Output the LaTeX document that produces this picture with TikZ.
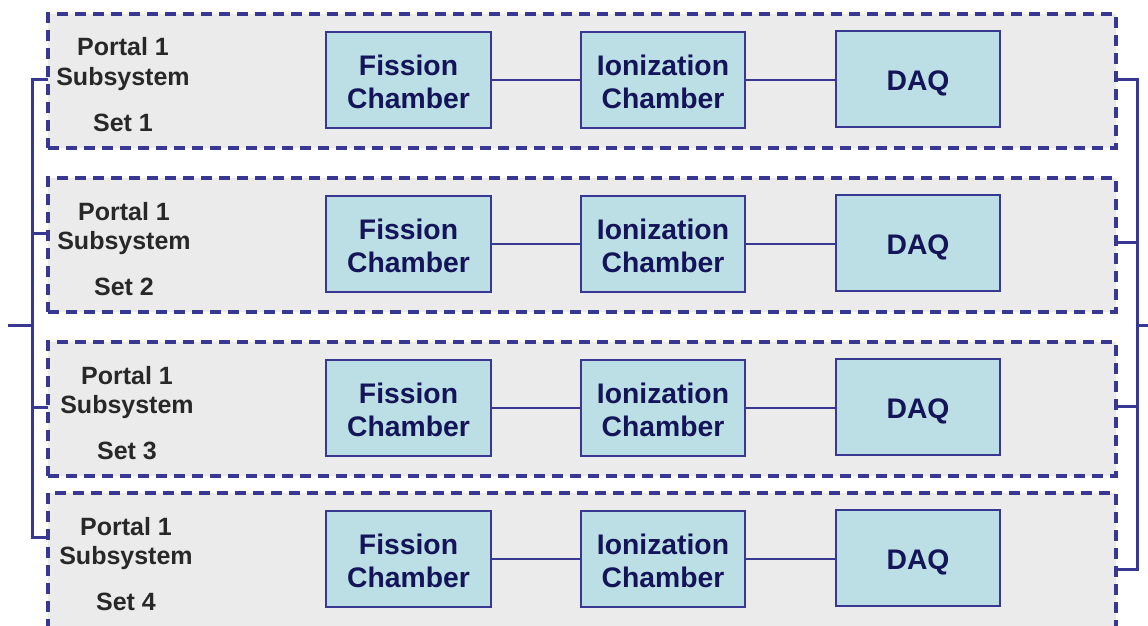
\documentclass[tikz,border=0pt]{standalone}
\usepackage{fontspec}
\setmainfont{Liberation Sans}
\definecolor{panelfill}{RGB}{235,235,235}
\definecolor{navyline}{RGB}{56,56,146}
\definecolor{boxfill}{RGB}{187,223,228}
\definecolor{boxtext}{RGB}{20,20,88}
\definecolor{graytext}{RGB}{40,40,40}
\tikzset{
  panel/.style={rectangle, fill=panelfill, draw=navyline, line width=3.2pt,
    dash pattern=on 11pt off 7pt, inner sep=0pt, outer sep=0pt,
    minimum width=1068pt, minimum height=134pt, anchor=north west},
  unitbox/.style={rectangle, fill=boxfill, draw=navyline, line width=2.8pt,
    minimum width=164pt, minimum height=96pt, inner sep=0pt, outer sep=0pt},
  boxlabel/.style={align=center, text=boxtext, inner sep=0pt,
    font=\bfseries\fontsize{28.3}{33}\selectfont},
  sidetext/.style={text=graytext, inner sep=0pt, font=\bfseries\fontsize{25}{28}\selectfont},
  conn/.style={draw=navyline, line width=2.4pt},
  bracket/.style={draw=navyline, line width=3pt}
}
\begin{document}
\begin{tikzpicture}[x=1pt,y=-1pt]
\useasboundingbox (0,0) rectangle (1148,626);
\clip (0,0) rectangle (1148,626);
\fill[white] (0,0) rectangle (1148,626);
\foreach \i/\t/\h/\l/\r/\sx in {1/14/134/79/79/123, 2/178/134/233/242/124, 3/342/134/407/406/127, 4/493/150/537/569/126}{
  \node[panel, minimum height=\h pt] (p\i) at (48,\t) {};
  \node[sidetext, anchor=base] (po\i) at (\sx,\t+42) {Portal 1};
  \node[sidetext, anchor=base] (su\i) at (\sx,\t+71) {Subsystem};
  \node[sidetext, anchor=base] (se\i) at (\sx,\t+117) {Set \i};
  \node[unitbox, minimum width=165pt] (fc\i) at (408.5,\t+66) {};
  \node[unitbox] (ic\i) at (663,\t+66) {};
  \node[unitbox] (dq\i) at (918,\t+65) {};
  \node[boxlabel, anchor=base] (fa\i) at (408.5,\t+61) {Fission};
  \node[boxlabel, anchor=base] (fb\i) at (408.5,\t+94) {Chamber};
  \node[boxlabel, anchor=base] (ia\i) at (663,\t+61) {Ionization};
  \node[boxlabel, anchor=base] (ib\i) at (663,\t+94) {Chamber};
  \node[boxlabel, anchor=base] (da\i) at (918,\t+76) {DAQ};
  \draw[conn] (fc\i.east) -- (ic\i.west);
  \draw[conn] (ic\i.east) -- (dq\i.west |- ic\i.east);
  \coordinate (pl\i) at (48,\l);
  \coordinate (la\i) at (32,\l);
  \coordinate (pr\i) at (1116,\r);
  \coordinate (ra\i) at (1137,\r);
}
\coordinate (lm) at (32,325);
\coordinate (ls) at (8,325);
\coordinate (rm) at (1137,325);
\coordinate (rs) at (1150,325);
\draw[bracket] (pl1) -- (la1) -- (la4) -- (pl4);
\draw[bracket] (pl2) -- (la2);
\draw[bracket] (pl3) -- (la3);
\draw[bracket] (ls) -- (lm);
\draw[bracket] (pr1) -- (ra1) -- (ra4) -- (pr4);
\draw[bracket] (pr2) -- (ra2);
\draw[bracket] (pr3) -- (ra3);
\draw[bracket] (rm) -- (rs);
\end{tikzpicture}
\end{document}
